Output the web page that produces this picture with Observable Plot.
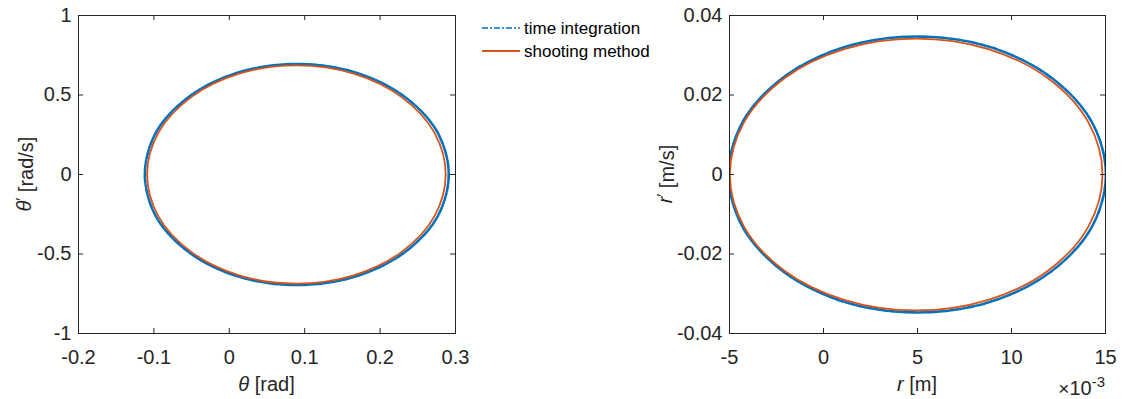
<!DOCTYPE html>
<html><head><meta charset="utf-8">
<script src="https://cdn.jsdelivr.net/npm/d3@7"></script>
<script src="https://cdn.jsdelivr.net/npm/@observablehq/plot@0.6"></script>
<style>
body{margin:0;background:#fff;}
#wrap{position:relative;width:1123px;height:399px;overflow:hidden;font-family:"Liberation Sans",Arial,sans-serif;}
#wrap svg{position:absolute;top:0;overflow:visible;}
</style></head><body><div id="wrap"></div>
<script>
// ---- Data ----
const seriesNames = ["time integration", "shooting method"];
const seriesColors = ["#0072BD", "#D95319"];

// Left panel: theta [rad] vs theta' [rad/s]
const thetaTI    = [0.291, 0.276, 0.232, 0.167, 0.090, 0.012, -0.053, -0.097, -0.112, -0.097, -0.053, 0.012, 0.090, 0.167, 0.232, 0.276];
const thetaDotTI = [0, 0.266, 0.491, 0.642, 0.695, 0.642, 0.491, 0.266, 0, -0.266, -0.491, -0.642, -0.695, -0.642, -0.491, -0.266];
const thetaSM    = [0.287, 0.272, 0.229, 0.165, 0.089, 0.013, -0.051, -0.094, -0.109, -0.094, -0.051, 0.013, 0.089, 0.165, 0.229, 0.272];
const thetaDotSM = [0, 0.263, 0.485, 0.634, 0.686, 0.634, 0.485, 0.263, 0, -0.263, -0.485, -0.634, -0.686, -0.634, -0.485, -0.263];

// Right panel: r [m] vs r' [m/s]
const rTI    = [0.01502, 0.01426, 0.01208, 0.00883, 0.00499, 0.00115, -0.00211, -0.00429, -0.00505, -0.00429, -0.00211, 0.00115, 0.00499, 0.00883, 0.01208, 0.01426];
const rDotTI = [0, 0.0133, 0.0245, 0.0321, 0.0347, 0.0321, 0.0245, 0.0133, 0, -0.0133, -0.0245, -0.0321, -0.0347, -0.0321, -0.0245, -0.0133];
const rSM    = [0.01484, 0.01409, 0.01194, 0.00872, 0.00493, 0.00114, -0.00208, -0.00423, -0.00498, -0.00423, -0.00208, 0.00114, 0.00493, 0.00872, 0.01194, 0.01409];
const rDotSM = [0, 0.0131, 0.0242, 0.0316, 0.0342, 0.0316, 0.0242, 0.0131, 0, -0.0131, -0.0242, -0.0316, -0.0342, -0.0316, -0.0242, -0.0131];

// Tick values
const thetaTicks = [-0.2, -0.1, 0, 0.1, 0.2, 0.3];
const thetaDotTicks = [-1, -0.5, 0, 0.5, 1];
const rTicks = [-0.005, 0, 0.005, 0.01, 0.015];
const rDotTicks = [-0.04, -0.02, 0, 0.02, 0.04];

// ---- Build ----
const ink = "#262626";
const font = '"Liberation Sans", Arial, sans-serif';
const FS = 20;
const H = 399, mT = 15, mB = 66, TL = 5;
const innerH = H - mT - mB;

function pts(xs, ys) { return xs.map((x, i) => ({x, y: ys[i]})); }

function panel({width, mL, mR, xDomain, yDomain, xTicks, yTicks, xFmt, yFmt, ti, sm}) {
  const innerW = width - mL - mR;
  return Plot.plot({
    width, height: H,
    marginLeft: mL, marginRight: mR, marginTop: mT, marginBottom: mB,
    x: {domain: xDomain}, y: {domain: yDomain},
    style: {fontFamily: font, fontSize: FS + "px", color: ink, background: "transparent"},
    marks: [
      Plot.line(ti, {x: "x", y: "y", curve: "catmull-rom-closed", stroke: seriesColors[0], strokeWidth: 2.6, strokeDasharray: "7,1.5,2,1.5", clip: true}),
      Plot.line(sm, {x: "x", y: "y", curve: "catmull-rom-closed", stroke: seriesColors[1], strokeWidth: 1.8, clip: true}),
      Plot.frame({stroke: ink, strokeWidth: 1}),
      Plot.tickX(xTicks, {x: d => d, stroke: ink, insetTop: innerH - TL}),
      Plot.tickX(xTicks, {x: d => d, stroke: ink, insetBottom: innerH - TL}),
      Plot.tickY(yTicks, {y: d => d, stroke: ink, insetRight: innerW - TL}),
      Plot.tickY(yTicks, {y: d => d, stroke: ink, insetLeft: innerW - TL}),
      Plot.axisX({ticks: xTicks, tickSize: 0, tickPadding: 16, tickFormat: xFmt, label: null, fontSize: FS, fill: ink}),
      Plot.axisY({ticks: yTicks, tickSize: 0, tickPadding: 7, tickFormat: yFmt, label: null, fontSize: FS, fill: ink})
    ]
  });
}

const wrap = document.getElementById("wrap");

const left = panel({
  width: 560, mL: 78, mR: 105,
  xDomain: [-0.2, 0.3], yDomain: [-1, 1],
  xTicks: thetaTicks, yTicks: thetaDotTicks,
  xFmt: d => String(d), yFmt: d => String(d),
  ti: pts(thetaTI, thetaDotTI), sm: pts(thetaSM, thetaDotSM)
});
left.style.left = "0px";
wrap.appendChild(left);

const right = panel({
  width: 563, mL: 169, mR: 18,
  xDomain: [-0.005, 0.015], yDomain: [-0.04, 0.04],
  xTicks: rTicks, yTicks: rDotTicks,
  xFmt: d => String(Math.round(d * 1000)), yFmt: d => String(d),
  ti: pts(rTI, rDotTI), sm: pts(rSM, rDotSM)
});
right.style.left = "560px";
wrap.appendChild(right);

// Axis labels
function label(svg, x, y, rot, parts, size = FS) {
  const t = d3.select(svg).append("text")
    .attr("transform", `translate(${x},${y})` + (rot ? ` rotate(${rot})` : ""))
    .attr("text-anchor", "middle").attr("fill", ink)
    .attr("font-family", font).attr("font-size", size);
  parts.forEach(p => {
    const s = t.append("tspan").text(p.t);
    if (p.i) s.attr("font-style", "italic");
    if (p.dy) s.attr("dy", p.dy);
    if (p.fs) s.attr("font-size", p.fs);
  });
  return t;
}
label(left, 266.5, 391, 0, [{t: "θ", i: true}, {t: " [rad]"}]);
label(left, 31, 174, -90, [{t: "θ", i: true}, {t: "′", dy: "-0.35em", fs: 15}, {t: " [rad/s]", dy: "0.35em"}]);
label(right, 357, 391, 0, [{t: "r", i: true}, {t: " [m]"}]);
label(right, 112, 174, -90, [{t: "r", i: true}, {t: "′", dy: "-0.35em", fs: 15}, {t: " [m/s]", dy: "0.35em"}]);
label(right, 545, 395, 0, [{t: "×", fs: 19}, {t: "10", fs: 20}, {t: "-3", dy: "-0.55em", fs: 15}]).attr("text-anchor", "end");

// Legend
const leg = d3.select(wrap).append("svg").attr("width", 200).attr("height", 70)
  .style("left", "470px").style("top", "0px");
[28, 51].forEach((y, i) => {
  leg.append("line").attr("x1", 12).attr("x2", 50).attr("y1", y).attr("y2", y)
    .attr("stroke", seriesColors[i]).attr("stroke-width", i ? 1.8 : 1.5)
    .attr("stroke-dasharray", i ? null : "6,2,2,2");
  leg.append("text").attr("x", 54).attr("y", y).attr("dy", "0.35em")
    .attr("font-family", font).attr("font-size", 17).attr("fill", "#000")
    .text(seriesNames[i]);
});
</script></body></html>
